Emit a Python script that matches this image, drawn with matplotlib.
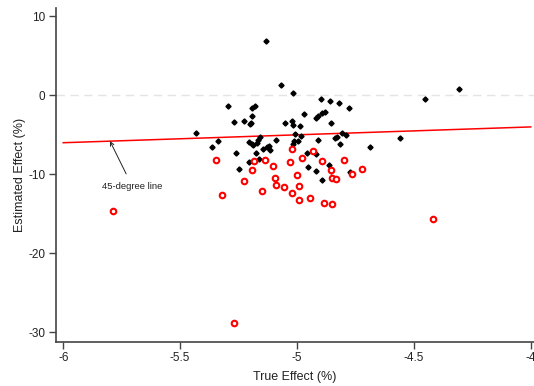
import matplotlib
matplotlib.use("Agg")
import matplotlib.pyplot as plt
import numpy as np

# Black points (true effect, estimated effect) in %
black_x = [-5.133, -5.068, -5.017, -5.295, -5.180, -5.193, -4.897, -4.859, -4.820, -4.777,
           -4.307, -4.452, -4.970, -4.918, -4.910, -4.893, -4.880, -5.270, -5.227, -5.201,
           -5.193, -5.432, -5.051, -5.021, -5.017, -4.987, -4.854, -5.008, -4.982, -5.158,
           -4.807, -4.790, -5.364, -5.338, -5.205, -5.193, -5.188, -5.171, -5.167, -5.090,
           -5.013, -4.995, -5.017, -4.910, -4.837, -4.829, -4.816, -5.145, -5.128, -5.120,
           -5.115, -4.688, -4.559, -5.261, -5.248, -5.175, -5.205, -5.163, -4.956, -4.918,
           -4.952, -4.918, -4.863, -4.854, -4.893, -4.773, -5.197]
black_y = [6.87, 1.30, 0.29, -1.35, -1.35, -1.61, -0.47, -0.73, -0.98, -1.61,
           0.80, -0.47, -2.38, -2.89, -2.63, -2.25, -2.12, -3.40, -3.27, -3.65,
           -2.63, -4.77, -3.53, -3.27, -3.78, -3.91, -3.53, -4.90, -5.16, -5.28,
           -4.77, -5.03, -6.54, -5.78, -5.91, -6.16, -6.29, -6.04, -5.66, -5.66,
           -5.78, -5.78, -6.16, -5.66, -5.41, -5.28, -6.16, -6.80, -6.54, -6.42,
           -6.92, -6.54, -5.41, -7.30, -9.33, -7.30, -8.44, -8.06, -7.30, -7.43,
           -9.08, -9.58, -8.82, -9.58, -10.72, -9.71, -3.52]

# Red hollow circles
red_x = [-5.787, -5.347, -5.321, -5.270, -5.227, -5.193, -5.184, -5.150, -5.137, -5.103,
         -5.094, -5.090, -5.056, -5.030, -5.021, -5.021, -5.000, -4.991, -4.991, -4.978,
         -4.944, -4.931, -4.893, -4.884, -4.854, -4.850, -4.850, -4.833, -4.799, -4.764,
         -4.722, -4.418]
red_y = [-14.65, -8.19, -12.62, -28.82, -10.85, -9.46, -8.32, -12.11, -8.19, -8.95,
         -10.47, -11.35, -11.61, -8.44, -6.80, -12.37, -10.09, -11.48, -13.25, -7.94,
         -13.00, -7.05, -8.32, -13.63, -9.46, -10.47, -13.76, -10.59, -8.19, -9.96,
         -9.33, -15.66]

line_x = [-6, -4]
line_y = [-6, -4]

x_ticks = [-6, -5.5, -5, -4.5, -4]
x_tick_labels = ["-6", "-5.5", "-5", "-4.5", "-4"]
y_ticks = [10, 0, -10, -20, -30]
y_tick_labels = ["10", "0", "-10", "-20", "-30"]

plt.rcParams['font.family'] = ['Liberation Sans', 'DejaVu Sans']

fig = plt.figure(figsize=(5.34, 3.86), dpi=100)
ax = fig.add_axes([0.1049, 0.1148, 0.8951, 0.8642])

ax.axhline(0, color='#e4e4e4', lw=1.0, ls=(0, (6, 4)), zorder=1)
ax.plot(line_x, line_y, color='red', lw=1.1, zorder=2)
ax.plot(black_x, black_y, ls='none', marker='D', ms=2.6, color='black', zorder=3)
ax.plot(red_x, red_y, ls='none', marker='o', ms=4.0, mfc='white', mec='red', mew=1.5, zorder=4)

ax.annotate('45-degree line', xy=(-5.80, -5.80), xytext=(-5.705, -11.5),
            ha='center', va='center', fontsize=6.8, color='#222222',
            arrowprops=dict(arrowstyle='->', color='#222222', lw=0.7, shrinkA=4, shrinkB=0))

ax.set_xlim(-6.031, -3.986)
ax.set_ylim(-31.2, 11.05)
ax.set_xticks(x_ticks)
ax.set_xticklabels(x_tick_labels)
ax.set_yticks(y_ticks)
ax.set_yticklabels(y_tick_labels)

for s in ['top', 'right']:
    ax.spines[s].set_visible(False)
for s in ['left', 'bottom']:
    ax.spines[s].set_color('#444444')
    ax.spines[s].set_linewidth(1.2)

ax.tick_params(axis='both', direction='out', length=5, width=1.0, color='#444444',
               labelsize=8.5, labelcolor='#222222', pad=2.5)

ax.set_xlabel('True Effect (%)', fontsize=9, color='#222222', labelpad=5)
ax.set_ylabel('Estimated Effect (%)', fontsize=9, color='#222222', labelpad=2)

fig.savefig('out.png', dpi=100)
